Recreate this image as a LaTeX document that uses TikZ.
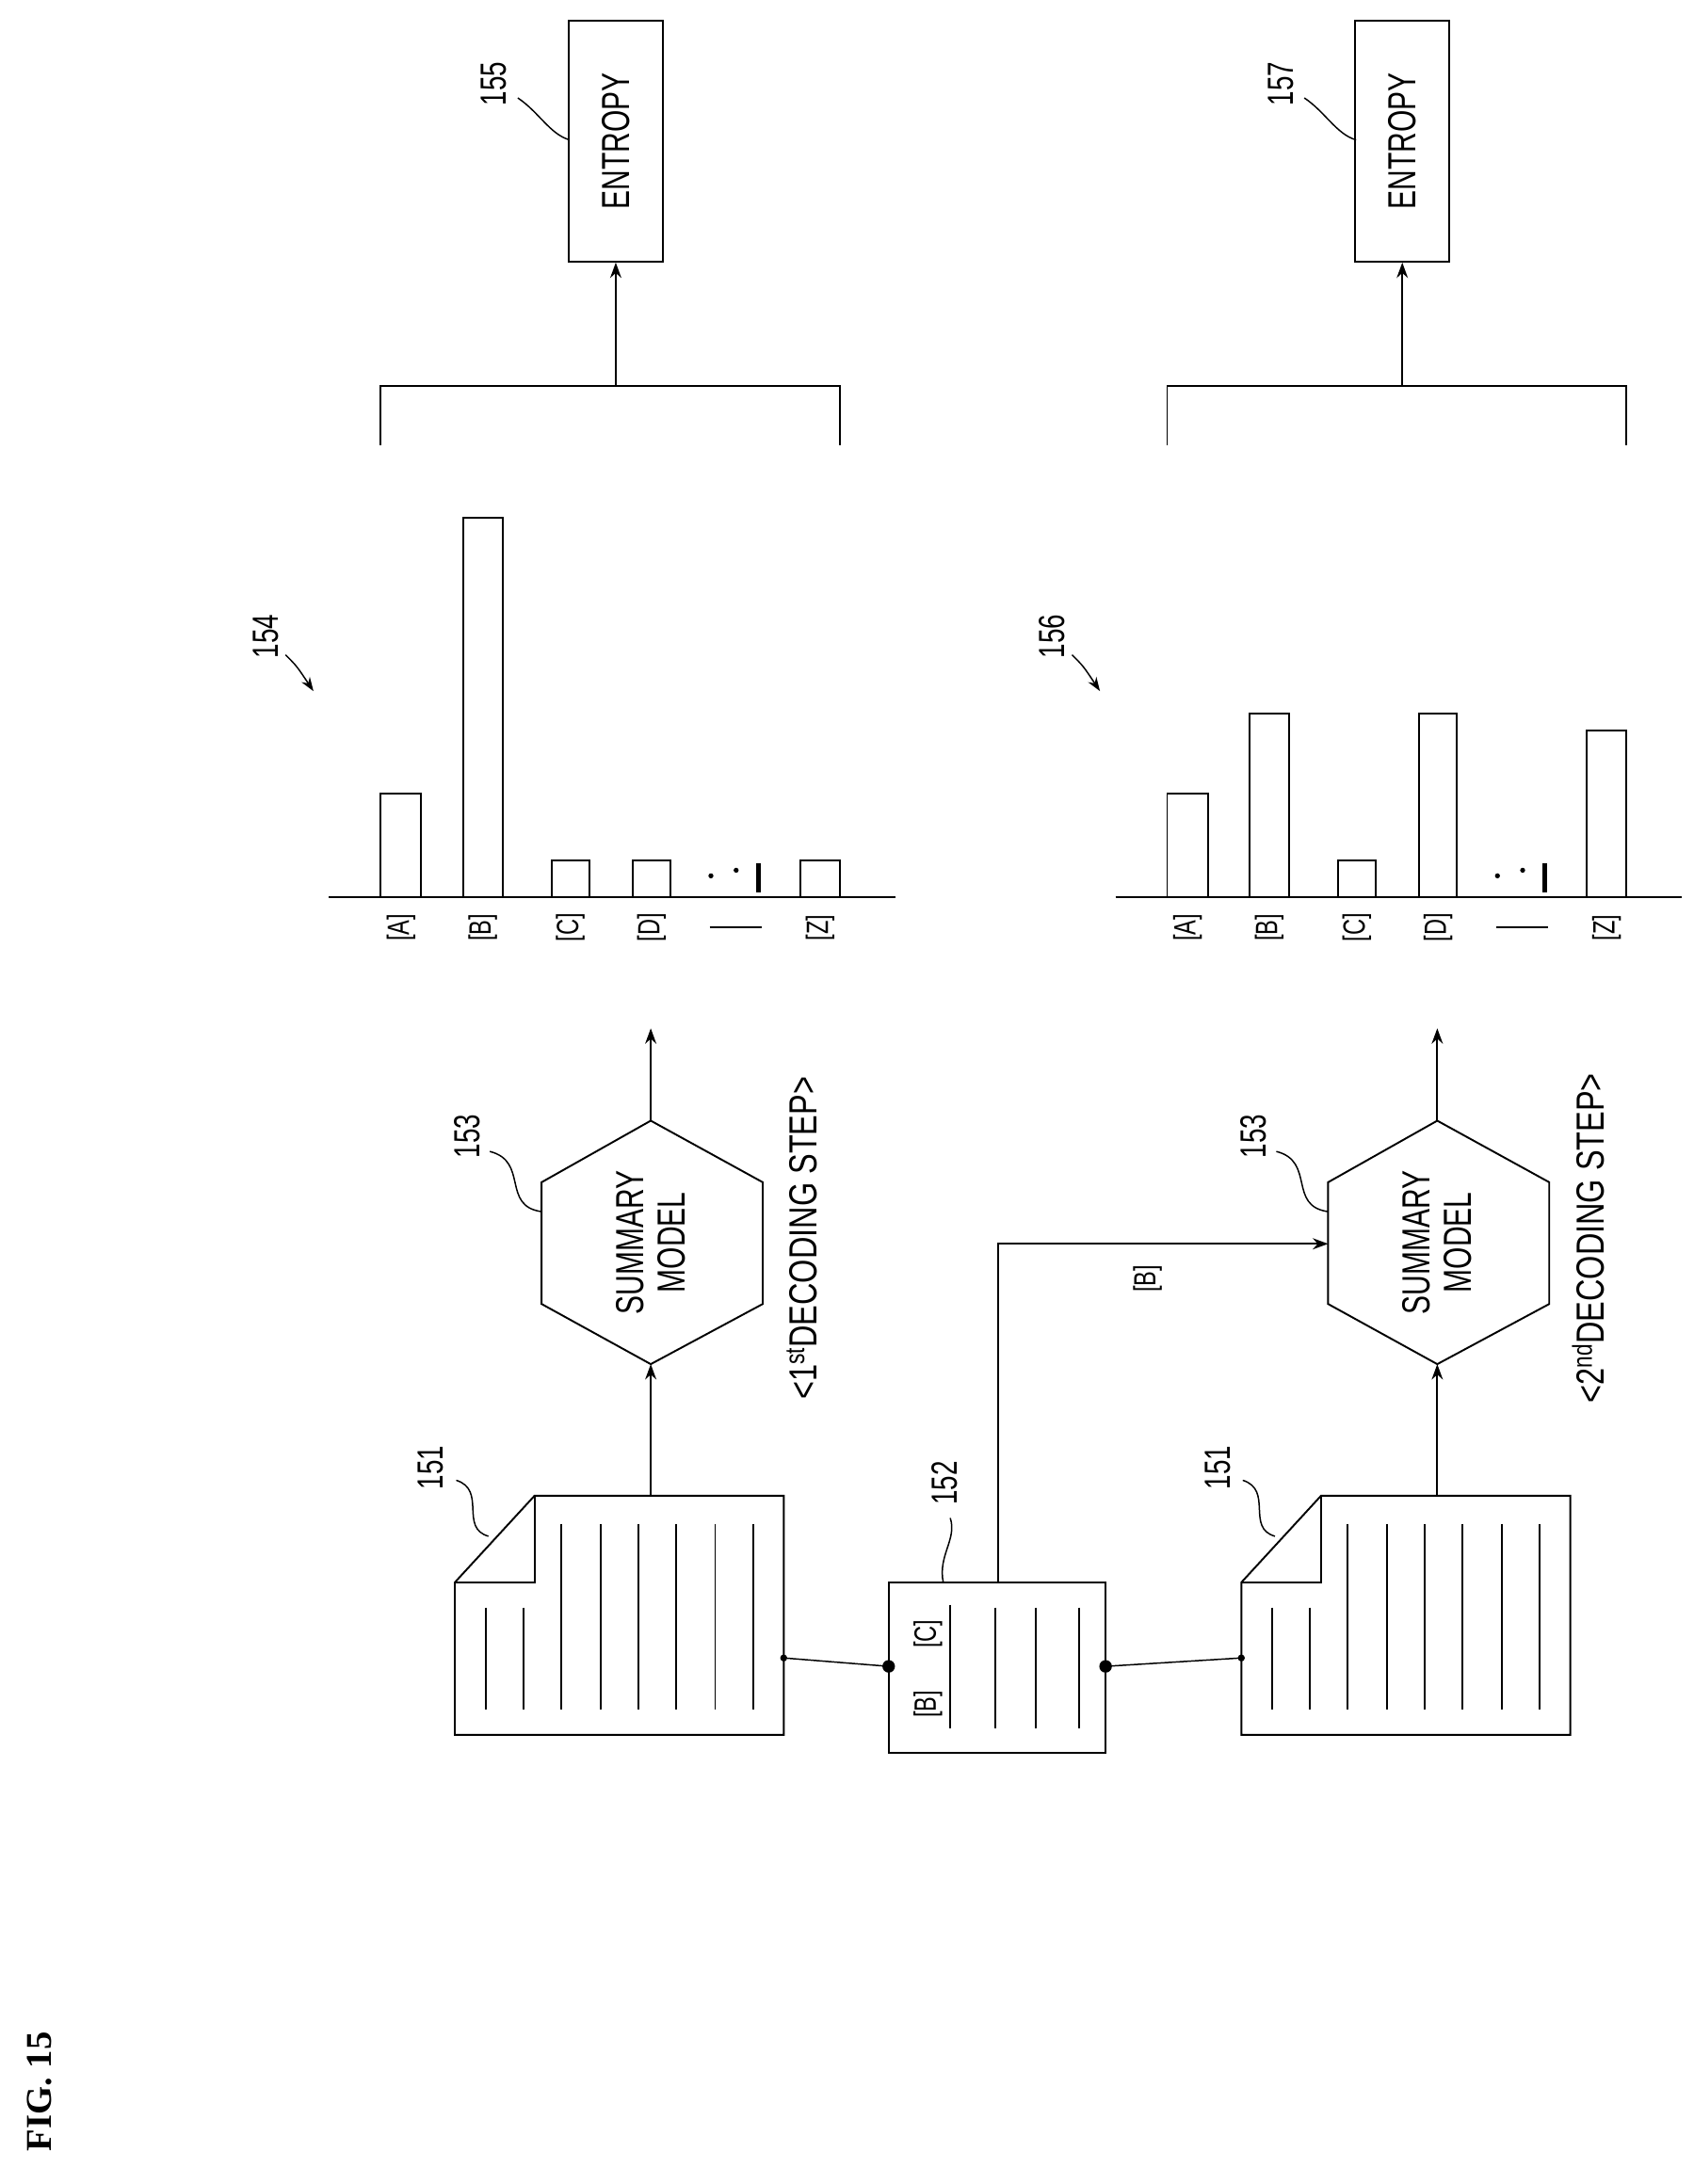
\documentclass[tikz,border=0pt]{standalone}
\usepackage{fontspec}
\setmainfont{Liberation Sans}
\newfontfamily\figfont{Liberation Serif}
\usetikzlibrary{arrows.meta}
\tikzset{
  ln/.style={line width=1.3pt},
  arr/.style={line width=1.3pt,-{Stealth[length=11pt,width=8pt]}},
  big/.style={rotate=90,inner sep=0pt,font=\fontsize{28}{30}\selectfont,align=center},
  lab/.style={rotate=90,inner sep=0pt,font=\fontsize{26}{28}\selectfont},
  sml/.style={rotate=90,inner sep=0pt,font=\fontsize{22}{24}\selectfont},
  lead/.style={line width=1pt},
}
\newcommand\sq[1]{\scalebox{0.72}[1]{#1}}
\newcommand\myrow[9]{%
  \draw[ln] (325,1131) -- (382,1069) -- (560,1069) -- (560,1240) -- (325,1240) -- cycle;
  \draw[ln] (325,1131) -- (382,1131) -- (382,1069);
  \foreach \x in {347,374}{\draw[ln] (\x,1149)--(\x,1222);}
  \foreach \x in {401,429,456,483,511,538}{\draw[ln] (\x,1089)--(\x,1222);}
  \coordinate (doc#1) at (465,1069);
  \coordinate (docR#1) at (560,1185);
  \coordinate (docL#1) at (325,1185);
  \draw[ln] (465,801) -- (545,845) -- (545,932) -- (465,975) -- (387,932) -- (387,845) -- cycle;
  \node[big] (hex#1) at (465,888) {\sq{SUMMARY}\\\sq{MODEL}};
  \coordinate (hexB#1) at (465,975);
  \coordinate (hexT#1) at (465,801);
  \coordinate (hexL#1) at (465,735);
  \draw[arr] (doc#1) -- (hexB#1);
  \draw[arr] (hexT#1) -- (hexL#1);
  \node[big] (step#1) at (573,885) {\scalebox{0.78}[1]{<#2DECODING STEP>}};
  \node[lab] (l153#1) at (334,812) {\sq{153}};
  \draw[lead] (350,823) .. controls (378,830) and (358,862) .. (387,866);
  \node[lab] (l151#1) at (308,1049) {\sq{151}};
  \draw[lead] (326,1058) .. controls (348,1065) and (328,1092) .. (349,1098);
  \draw[ln] (235,641) -- (640,641);
  \draw[ln] (272,641) rectangle (301,#3);
  \draw[ln] (331,641) rectangle (359,#4);
  \draw[ln] (394,641) rectangle (421,#5);
  \draw[ln] (452,641) rectangle (479,#6);
  \draw[ln] (572,641) rectangle (600,#7);
  \fill (508,626) circle (1.8);
  \fill (526,622) circle (1.8);
  \draw[line width=3.5pt] (542,617) -- (542,638);
  \node[sml] (ba#1) at (286.5,663) {\sq{[A]}};
  \node[sml] (bb#1) at (345,663) {\sq{[B]}};
  \node[sml] (bc#1) at (407.5,663) {\sq{[C]}};
  \node[sml] (bd#1) at (465.5,663) {\sq{[D]}};
  \node[sml] (bz#1) at (586,663) {\sq{[Z]}};
  \draw[ln] (507,663) -- (544,663);
  \draw[ln] (272,318) -- (272,276) -- (600,276) -- (600,318);
  \coordinate (br#1) at (440,276);
  \node[draw,line width=1.3pt,minimum width=67pt,minimum height=172pt,inner sep=0pt] (ent#1) at (440,101) {};
  \node[big] at (ent#1) {\sq{ENTROPY}};
  \draw[arr] (br#1) -- (ent#1.south);
  \node[lab] (l155#1) at (353,60) {\sq{#8}};
  \draw[lead] (370,70) .. controls (385,80) and (393,96) .. (407,100);
  \node[lab] (l154#1) at (190,455) {\sq{#9}};
  \draw[lead,-{Stealth[length=10pt,width=7pt]}] (204,468) .. controls (212,476) .. (224,494);
}
\begin{document}
\begin{tikzpicture}[x=1pt,y=-1pt]
\useasboundingbox (0,0) rectangle (1210,1561);
\myrow{1}{1\textsuperscript{st}}{567}{370}{615}{615}{615}{155}{154}
\begin{scope}[xshift=562pt]
\myrow{2}{2\textsuperscript{nd}}{567}{510}{615}{510}{522}{157}{156}
\end{scope}
% 152
\draw[ln] (635,1131) rectangle (790,1253);
\node[sml] (nb) at (663,1218) {\sq{[B]}};
\node[sml] (nc) at (663,1168) {\sq{[C]}};
\draw[ln] (679,1147) -- (679,1235);
\foreach \x in {711,740,771}{\draw[ln] (\x,1149)--(\x,1235);}
\coordinate (d152L) at (635,1191);
\coordinate (d152R) at (790,1191);
\coordinate (d152T) at (713,1131);
\fill (d152L) circle (4.5);
\fill (d152R) circle (4.5);
\fill (docR1) circle (2.5);
\fill (docL2) circle (2.5);
\draw[line width=1pt] (docR1) -- (d152L);
\draw[line width=1pt] (d152R) -- (docL2);
\coordinate (hexin) at (949,889);
\draw[arr] (d152T) -- (713,889) -- (hexin);
\node[sml] (bl) at (820,914) {\sq{[B]}};
\node[lab] (l152) at (675,1060) {\sq{152}};
\draw[lead] (679,1085) .. controls (684,1100) and (670,1112) .. (674,1131);
\node[rotate=90,inner sep=0pt,font=\figfont\bfseries\fontsize{26}{28}\selectfont] (fig) at (28,1495) {FIG. 15};
\end{tikzpicture}
\end{document}
